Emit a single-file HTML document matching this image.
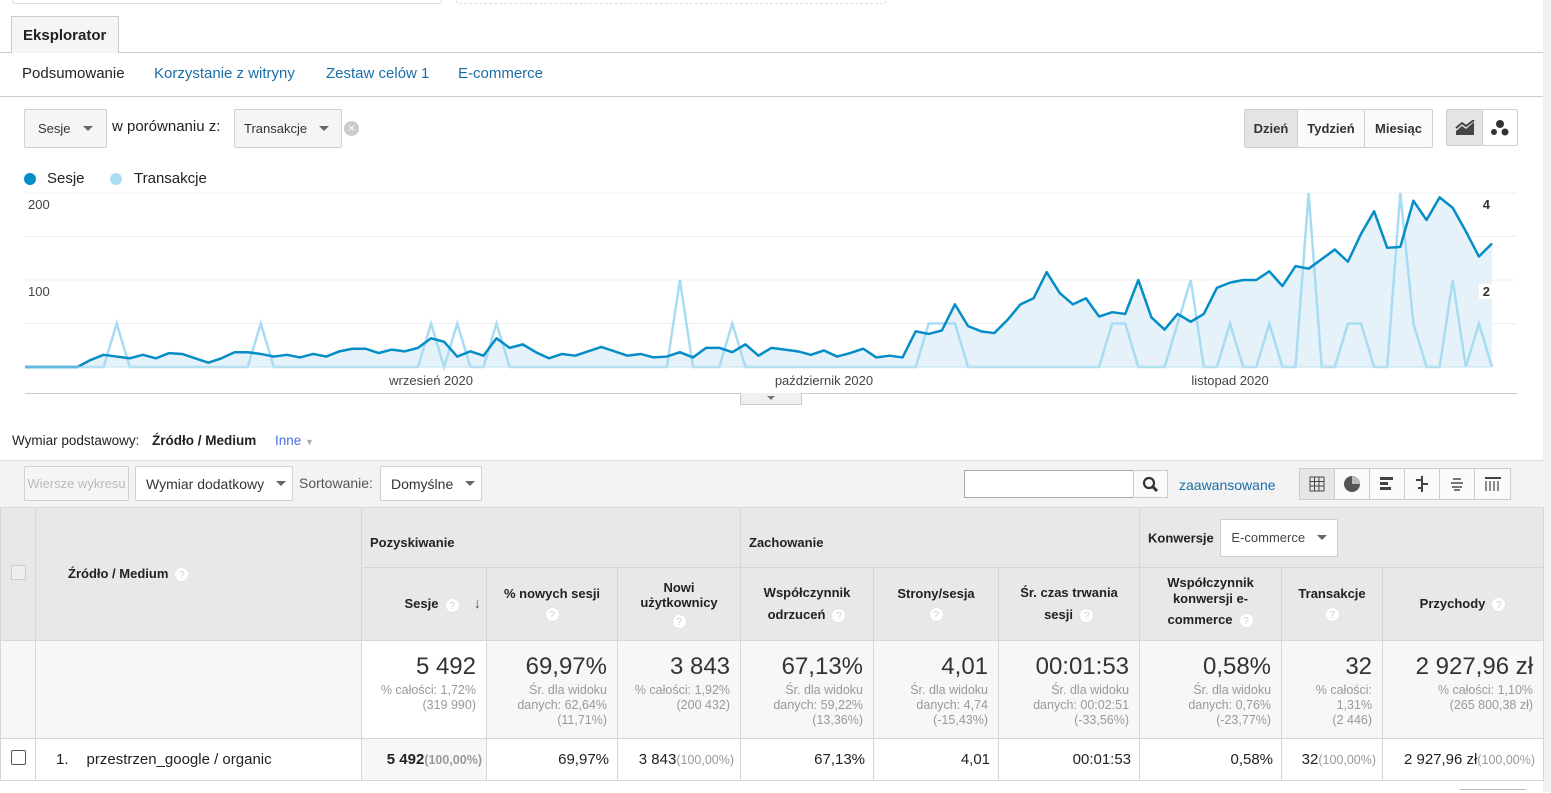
<!DOCTYPE html>
<html><head><meta charset="utf-8">
<style>
*{box-sizing:border-box;margin:0;padding:0}
body{width:1551px;height:792px;overflow:hidden;background:#fff;font-family:"Liberation Sans",sans-serif;color:#222;position:relative}
.abs{position:absolute}
.btn{position:absolute;border:1px solid #d0d0d0;border-radius:2px;background:#f5f5f5;font-size:13px;color:#333;display:flex;align-items:center}
.caret{display:inline-block;width:0;height:0;border-left:5px solid transparent;border-right:5px solid transparent;border-top:5px solid #666;margin-left:12px}
.q{display:inline-block;width:15px;height:15px;border-radius:50%;background:#fff;color:#ccc;font-size:10px;line-height:15px;text-align:center;font-weight:normal;vertical-align:middle;margin-left:6px;border:1px solid #e4e4e4}
table{position:absolute;left:0;top:507px;border-collapse:collapse;table-layout:fixed;width:1543px}
td,th{border:1px solid #d6d6d6;font-size:13px}
th{background:#e8e8e8;font-weight:bold;color:#222}
.tot td{background:#f7f7f7;text-align:right;vertical-align:top;padding:12px 10px 0 4px;color:#999;font-size:12.5px;line-height:15px}
.tot .big{font-size:24px;color:#333;line-height:28px;display:block;margin-bottom:2px}
.row td{text-align:right;padding:0 8px;font-size:15px;color:#222}
.pc{font-size:12.5px;color:#999}
</style></head><body>
<div class="abs" style="left:12px;top:-10px;width:430px;height:14px;border:1px solid #ddd;border-radius:3px"></div>
<div class="abs" style="left:456px;top:-10px;width:430px;height:14px;border:1px dashed #ddd;border-radius:3px"></div>

<div class="abs" style="left:0;top:52px;width:1543px;height:1px;background:#ccc"></div>
<div class="abs" style="left:11px;top:16px;width:108px;height:37px;background:#f5f5f5;border:1px solid #ccc;border-bottom:none;font-weight:bold;font-size:15px;padding:10px 0 0 11px">Eksplorator</div>

<div class="abs" style="left:22px;top:65px;font-size:15px;color:#222">Podsumowanie</div>
<div class="abs" style="left:154px;top:65px;font-size:15px;color:#1a6ea8">Korzystanie z witryny</div>
<div class="abs" style="left:326px;top:65px;font-size:15px;color:#1a6ea8">Zestaw celów 1</div>
<div class="abs" style="left:458px;top:65px;font-size:15px;color:#1a6ea8">E-commerce</div>
<div class="abs" style="left:0;top:96px;width:1543px;height:1px;background:#ccc"></div>

<div class="btn" style="left:24px;top:109px;width:83px;height:39px;padding-left:13px">Sesje<span class="caret"></span></div>
<div class="abs" style="left:112px;top:118px;font-size:15px">w porównaniu z:</div>
<div class="btn" style="left:234px;top:109px;width:108px;height:39px;padding-left:9px">Transakcje<span class="caret"></span></div>
<div class="abs" style="left:344px;top:121px;width:15px;height:15px;border-radius:50%;background:#ccc;color:#fff;font-size:12px;line-height:15px;text-align:center">×</div>

<div class="btn" style="left:1244px;top:109px;width:54px;height:39px;justify-content:center;font-weight:bold;background:#e4e4e4">Dzień</div>
<div class="btn" style="left:1297px;top:109px;width:68px;height:39px;justify-content:center;font-weight:bold;background:#fafafa">Tydzień</div>
<div class="btn" style="left:1364px;top:109px;width:69px;height:39px;justify-content:center;font-weight:bold;background:#fafafa">Miesiąc</div>
<div class="btn" style="left:1446px;top:109px;width:37px;height:37px;justify-content:center;background:#e4e4e4">
<svg width="20" height="16"><path d="M1 15 L1 11 L7 6 L11 9 L19 2 L19 15Z" fill="#444"/><path d="M1 8 L7 3 L11 6 L19 0" stroke="#444" stroke-width="2" fill="none"/></svg></div>
<div class="btn" style="left:1482px;top:109px;width:36px;height:37px;justify-content:center;background:#fff">
<svg width="20" height="18"><circle cx="10" cy="5" r="4" fill="#333"/><circle cx="4" cy="13" r="3" fill="#333"/><circle cx="15" cy="13" r="3.5" fill="#333"/></svg></div>
<div class="abs" style="left:1543px;top:0;width:8px;height:792px;background:#f1f1f1"></div>

<div class="abs" style="left:24px;top:170px;font-size:15px;display:flex;align-items:center"><span style="width:12px;height:12px;border-radius:50%;background:#058dc7;display:inline-block;margin-right:11px"></span>Sesje</div>
<div class="abs" style="left:110px;top:170px;font-size:15px;display:flex;align-items:center"><span style="width:12px;height:12px;border-radius:50%;background:#aadff3;display:inline-block;margin-right:12px"></span>Transakcje</div>

<svg class="abs" id="chart" style="left:0;top:0" width="1551" height="410"></svg>
<div class="abs" style="left:25px;top:393px;width:1492px;height:1px;background:#ccc"></div>
<div class="abs" style="left:740px;top:393px;width:62px;height:12px;background:#f0f0f0;border:1px solid #ccc;border-top:none"><span style="position:absolute;left:26px;top:3px;border-left:4px solid transparent;border-right:4px solid transparent;border-top:4px solid #777"></span></div>

<div class="abs" style="left:12px;top:433px;font-size:13.5px">Wymiar podstawowy:</div>
<div class="abs" style="left:152px;top:433px;font-size:13.5px;font-weight:bold">Źródło / Medium</div>
<div class="abs" style="left:275px;top:433px;font-size:13.5px;color:#4a6fdc">Inne <span style="font-size:9px;color:#aaa">▼</span></div>

<div class="abs" style="left:0;top:460px;width:1543px;height:47px;background:#f3f3f3;border-top:1px solid #ddd"></div>
<div class="btn" style="left:24px;top:466px;width:105px;height:35px;justify-content:center;color:#bbb;background:#f5f5f5">Wiersze wykresu</div>
<div class="btn" style="left:135px;top:466px;width:158px;height:35px;padding-left:10px;background:#fff;font-size:14px">Wymiar dodatkowy<span class="caret"></span></div>
<div class="abs" style="left:299px;top:475px;font-size:14px;color:#555">Sortowanie:</div>
<div class="btn" style="left:380px;top:466px;width:102px;height:35px;padding-left:10px;background:#fff;font-size:14px">Domyślne<span class="caret"></span></div>
<div class="abs" style="left:964px;top:470px;width:170px;height:28px;border:1px solid #aaa;background:#fff"></div>
<div class="abs" style="left:1133px;top:470px;width:35px;height:28px;border:1px solid #ccc;background:#fafafa">
<svg width="35" height="28"><circle cx="15" cy="12" r="5" stroke="#333" stroke-width="2.2" fill="none"/><path d="M19 16 L23 20" stroke="#333" stroke-width="3"/></svg></div>
<div class="abs" style="left:1179px;top:477px;font-size:14px;color:#1a6ea8">zaawansowane</div>
<div class="abs" style="left:1299px;top:468px;width:212px;height:32px;border:1px solid #ccc;background:#fafafa;display:flex">
<div style="width:35px;border-right:1px solid #ccc;background:#e6e6e6;display:flex;align-items:center;justify-content:center"><svg width="16" height="16"><path d="M1 1H15V15H1ZM1 5.5H15M1 10H15M5.5 1V15M10 1V15" stroke="#444" fill="none"/></svg></div>
<div style="width:35px;border-right:1px solid #ccc;display:flex;align-items:center;justify-content:center"><svg width="18" height="18"><circle cx="9" cy="9" r="8" fill="#555"/><path d="M9 9V1A8 8 0 0 1 17 9Z" fill="#bbb"/></svg></div>
<div style="width:35px;border-right:1px solid #ccc;display:flex;align-items:center;justify-content:center"><svg width="16" height="16"><rect x="1" y="1" width="13" height="3" fill="#444"/><rect x="1" y="6" width="8" height="3" fill="#444"/><rect x="1" y="11" width="11" height="3" fill="#444"/></svg></div>
<div style="width:35px;border-right:1px solid #ccc;display:flex;align-items:center;justify-content:center"><svg width="16" height="16"><path d="M8 0V16M2 4H8M8 8H14M4 12H8" stroke="#444" stroke-width="2"/></svg></div>
<div style="width:35px;border-right:1px solid #ccc;display:flex;align-items:center;justify-content:center"><svg width="16" height="16"><path d="M4 3H12M2 7H14M3 11H13M5 14H11" stroke="#777" stroke-width="2"/></svg></div>
<div style="width:35px;display:flex;align-items:center;justify-content:center"><svg width="18" height="16"><path d="M1 2H17" stroke="#444" stroke-width="2"/><path d="M2 5V15M6 5V15M10 5V15M14 5V15" stroke="#666" stroke-width="1.5"/></svg></div>
</div>

<table>
<colgroup><col style="width:35px"><col style="width:326px"><col style="width:125px"><col style="width:131px"><col style="width:123px"><col style="width:133px"><col style="width:125px"><col style="width:141px"><col style="width:142px"><col style="width:101px"><col style="width:161px"></colgroup>
<tr style="height:60px">
<th rowspan="2"><span style="display:inline-block;width:15px;height:15px;border:1px solid #ccc;background:#eee"></span></th>
<th rowspan="2" style="text-align:left;padding-left:32px">Źródło / Medium<span class="q">?</span></th>
<th colspan="3" style="text-align:left;padding:10px 8px 0">Pozyskiwanie</th>
<th colspan="3" style="text-align:left;padding:10px 8px 0">Zachowanie</th>
<th colspan="3" style="text-align:left;padding:0 8px"><span style="vertical-align:middle">Konwersje</span> <span style="display:inline-flex;align-items:center;vertical-align:middle;margin-left:3px;border:1px solid #ccc;background:#fff;font-weight:normal;height:38px;padding:0 10px;border-radius:2px;color:#444">E-commerce<span class="caret"></span></span></th>
</tr>
<tr style="height:73px">
<th style="text-align:right;padding-right:5px">Sesje<span class="q">?</span><span style="margin-left:14px;font-size:15px;color:#555">↓</span></th>
<th>% nowych sesji<br><span class="q" style="margin:6px 0 0">?</span></th>
<th>Nowi<br>użytkownicy<br><span class="q" style="margin:4px 0 0">?</span></th>
<th style="line-height:22px">Współczynnik<br>odrzuceń<span class="q">?</span></th>
<th>Strony/sesja<br><span class="q" style="margin:6px 0 0">?</span></th>
<th style="line-height:22px">Śr. czas trwania<br>sesji<span class="q">?</span></th>
<th style="line-height:16px">Współczynnik<br>konwersji e-<br><span style="line-height:26px">commerce</span><span class="q">?</span></th>
<th>Transakcje<br><span class="q" style="margin:6px 0 0">?</span></th>
<th>Przychody<span class="q">?</span></th>
</tr>
<tr class="tot" style="height:98px">
<td></td><td></td>
<td style="background:#fff"><span class="big">5 492</span>% całości: 1,72%<br>(319 990)</td>
<td><span class="big">69,97%</span>Śr. dla widoku<br>danych: 62,64%<br>(11,71%)</td>
<td><span class="big">3 843</span>% całości: 1,92%<br>(200 432)</td>
<td><span class="big">67,13%</span>Śr. dla widoku<br>danych: 59,22%<br>(13,36%)</td>
<td><span class="big">4,01</span>Śr. dla widoku<br>danych: 4,74<br>(-15,43%)</td>
<td><span class="big">00:01:53</span>Śr. dla widoku<br>danych: 00:02:51<br>(-33,56%)</td>
<td><span class="big">0,58%</span>Śr. dla widoku<br>danych: 0,76%<br>(-23,77%)</td>
<td><span class="big">32</span>% całości:<br>1,31%<br>(2 446)</td>
<td><span class="big">2 927,96 zł</span>% całości: 1,10%<br>(265 800,38 zł)</td>
</tr>
<tr class="row" style="height:42px">
<td style="text-align:center;padding:0"><span style="display:inline-block;width:15px;height:15px;border:1px solid #555;border-radius:2px"></span></td>
<td style="text-align:left;padding-left:20px"><span style="margin-right:18px">1.</span><span>przestrzen_google / organic</span></td>
<td style="background:#f7f7f7;padding:0 4px"><b>5 492</b><span class="pc" style="font-weight:bold">(100,00%)</span></td>
<td>69,97%</td>
<td style="padding:0 6px">3 843<span class="pc">(100,00%)</span></td>
<td>67,13%</td><td>4,01</td><td>00:01:53</td><td>0,58%</td>
<td style="padding:0 6px">32<span class="pc">(100,00%)</span></td>
<td style="padding:0 8px">2 927,96 zł<span class="pc">(100,00%)</span></td>
</tr>
</table>
<div class="abs" style="left:1460px;top:789px;width:66px;height:4px;border-top:1px solid #bbb"></div>

<script>
const dayCount = 113;
const sessions = [0,0,0,0,0,8,14,12,10,14,10,16,15,10,5,10,17,17,15,12,14,11,15,12,18,21,21,16,20,18,22,33,29,12,18,13,33,22,26,17,10,15,13,18,23,18,13,15,11,12,17,11,22,22,17,26,13,22,20,18,14,19,12,16,21,11,13,11,41,38,42,72,47,41,39,54,72,79,109,85,72,79,58,63,61,100,57,43,61,52,61,91,97,100,100,110,93,116,113,124,135,121,153,179,137,138,191,169,195,183,156,127,142];
const transactions = [0,0,0,0,0,0,0,1,0,0,0,0,0,0,0,0,0,0,1,0,0,0,0,0,0,0,0,0,0,0,0,1,0,1,0,0,1,0,0,0,0,0,0,0,0,0,0,0,0,0,2,0,0,0,1,0,0,0,0,0,0,0,0,0,0,0,0,0,0,1,1,1,0,0,0,0,0,0,0,0,0,0,0,1,1,0,0,0,1,2,0,0,1,0,0,1,0,0,4,0,0,1,1,0,0,4,1,0,0,2,0,1,0];
const leftTicks = [100,200];
const rightTicks = [2,4];
const gridValues = [50,100,150,200];
const monthLabels = ["wrzesień 2020","październik 2020","listopad 2020"];
const monthStartIdx = [31,61,92];

const svg = document.getElementById('chart');
const NS = 'http://www.w3.org/2000/svg';
const X0 = 25, X1 = 1492, YT = 193, YB = 367;
const leftMax = 200, rightMax = 4;
function x(i){ return X0 + (X1 - X0) * i / (sessions.length - 1); }
function yL(v){ return YB - (YB - YT) * v / leftMax; }
function yR(v){ return YB - (YB - YT) * v / rightMax; }
function mk(tag, attrs){ const e = document.createElementNS(NS, tag); for (const k in attrs) e.setAttribute(k, attrs[k]); svg.appendChild(e); return e; }

gridValues.forEach(v => {
  const g = mk('line', {x1: X0, x2: X1 + 25, y1: yL(v), y2: yL(v), stroke: '#efefef', 'stroke-width': 1});
  
  
});
leftTicks.forEach(v => {
  const t = mk('text', {x: 28, y: yL(v) + 16, 'font-size': 13, fill: '#444', 'font-family': 'Liberation Sans, sans-serif'});
  t.textContent = v;
  
  
});

let pts = sessions.map((v, i) => x(i) + ',' + yL(v));
const area = mk('polygon', {points: x(0) + ',' + YB + ' ' + pts.join(' ') + ' ' + x(sessions.length - 1) + ',' + YB, fill: '#e5f2f9'});



const tline = mk('polyline', {points: transactions.map((v, i) => x(i) + ',' + yR(v)).join(' '), fill: 'none', stroke: '#a8dcf2', 'stroke-width': 2.5, 'stroke-linejoin': 'miter'});



const sline = mk('polyline', {points: pts.join(' '), fill: 'none', stroke: '#058dc7', 'stroke-width': 2.5, 'stroke-linejoin': 'round'});



const ax = mk('line', {x1: X0, x2: X1, y1: YB, y2: YB, stroke: '#bfe3f3', 'stroke-width': 1});



rightTicks.forEach(v => {
  const bg = mk('rect', {x: 1479, y: yR(v) + 4, width: 13, height: 15, fill: '#fff'});
  
  
  const t = mk('text', {x: 1490, y: yR(v) + 16, 'font-size': 13, 'font-weight': 'bold', fill: '#333', 'text-anchor': 'end', 'font-family': 'Liberation Sans, sans-serif'});
  t.textContent = v;
  
  
});

monthLabels.forEach((m, k) => {
  const t = mk('text', {x: x(monthStartIdx[k]), y: 385, 'font-size': 13, fill: '#444', 'text-anchor': 'middle', 'font-family': 'Liberation Sans, sans-serif'});
  t.textContent = m;
  
  
});
</script>
</body></html>
